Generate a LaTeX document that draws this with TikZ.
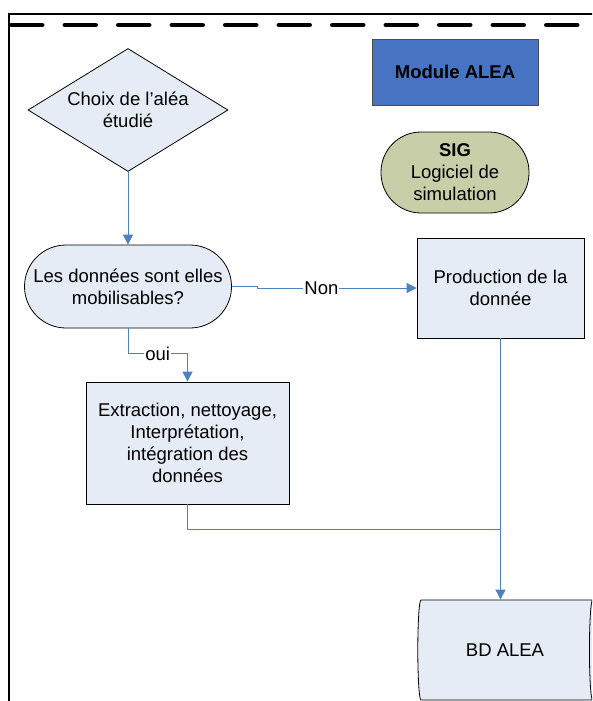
\documentclass[tikz,border=0pt]{standalone}
\usepackage{fontspec}
\setmainfont{Liberation Sans}
\usetikzlibrary{shapes.geometric,arrows.meta}
\definecolor{boxfill}{HTML}{E6ECF6}
\definecolor{linkblue}{HTML}{4F81BD}
\definecolor{modblue}{HTML}{4673C2}
\definecolor{sigfill}{HTML}{C8CEA8}
\newcommand{\bigtxt}{\fontsize{18.5}{22}\selectfont}
\begin{document}
\begin{tikzpicture}[x=1pt,y=-1pt,
    every node/.style={font=\bigtxt,align=center,inner sep=0pt},
    proc/.style={draw,fill=boxfill,line width=0.8pt},
    link/.style={draw=linkblue,line width=0.9pt},
    tip/.style={-{Triangle[width=10pt,length=10pt]}}]
        \useasboundingbox(0,0)rectangle(592,701);
        \clip(0,0)rectangle(592,701);
        \draw[line width=2pt](9,710)--(9,14)--(600,14);
        \draw[line width=4.5pt,line cap=round,dash pattern=on 31pt off 22.5pt](11.25,25)--(600,25);
        \node[draw=black!70,fill=modblue,minimum width=166pt,minimum height=66pt,font=\bigtxt\bfseries](module)at(455,72){Module ALEA};
        \node[draw,fill=sigfill,line width=0.8pt,rounded corners=40pt,minimum width=148pt,minimum height=81pt](sig)at(455,172.5){\textbf{SIG}\\Logiciel de\\simulation};
        \node[proc,diamond,aspect=1.63,minimum width=200pt,minimum height=123pt](choix)at(128,110){Choix de l’aléa\\étudié};
        \node[proc,rounded corners=41.5pt,minimum width=207pt,minimum height=83pt](mobil)at(128,286.5){Les données sont elles\\mobilisables?};
        \node[proc,minimum width=167pt,minimum height=100pt](prod)at(500.5,288){Production de la\\donnée};
        \node[proc,minimum width=203pt,minimum height=122pt](extr)at(187.5,443){Extraction, nettoyage,\\Interprétation,\\intégration des\\données};
        \node[proc,cylinder,aspect=0.5,minimum width=100pt,minimum height=178pt](bd)at(505,650){BD ALEA};
        \coordinate(join)at(prod.south|-0,529);
        \draw[link,tip](choix.south)--(mobil.north);
        \draw[link,tip](mobil.east)--++(26,0)|-node[pos=0.7,fill=white,inner sep=1pt]{Non}(prod.west);
        \draw[link,tip](mobil.south)--++(0,25)-|node[pos=0.25,fill=white,inner sep=1pt]{oui}(extr.north);
        \draw[link](extr.south)|-(join);
        \draw[link,tip](prod.south)--(prod.south|-bd.north);
\end{tikzpicture}
\end{document}
